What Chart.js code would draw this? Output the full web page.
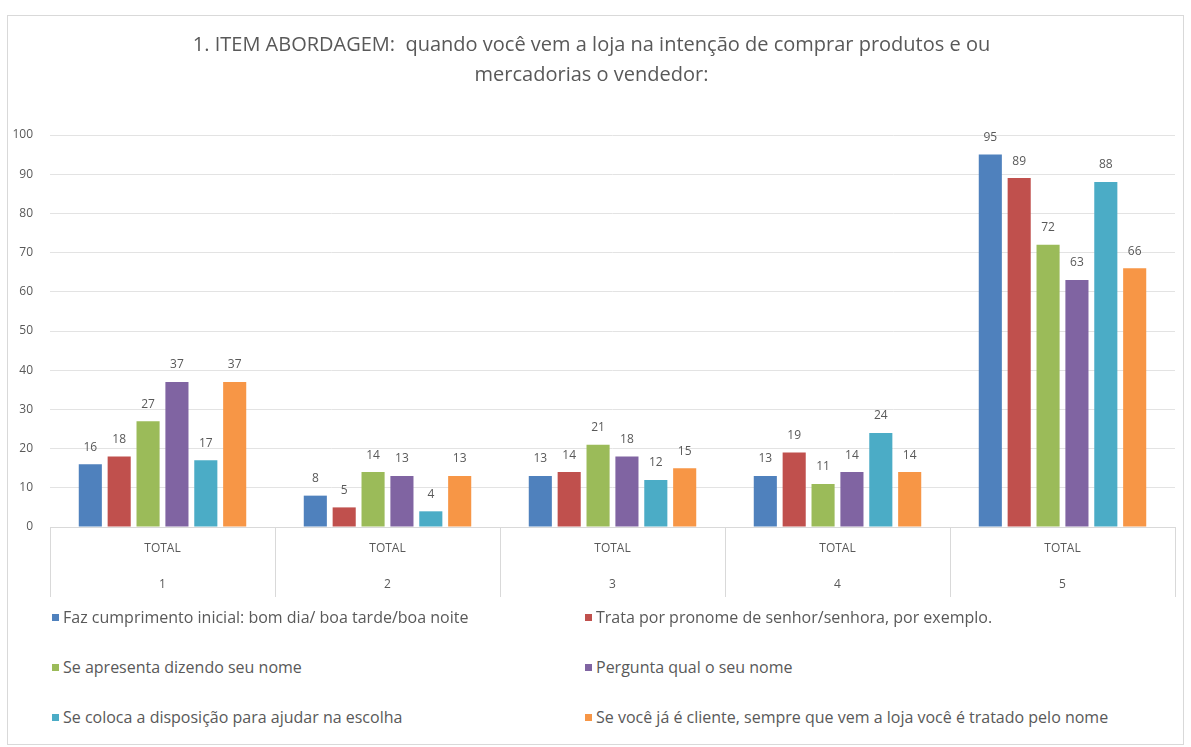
<!DOCTYPE html>
<html lang="pt">
<head>
<meta charset="UTF-8">
<title>Item abordagem</title>
<script src="https://cdn.jsdelivr.net/npm/chart.js"></script>
<style>
    body {
        margin: 0;
        background: #fff;
        font-family: "Open Sans", sans-serif;
    }
    #frame {
        position: absolute;
        left: 7px;
        top: 15px;
        width: 1175px;
        height: 728px;
        border: 1px solid #d9d9d9;
    }
    #wrap {
        position: absolute;
        left: 0;
        top: 0;
        width: 1191px;
        height: 610px;
    }
    #legend {
        position: absolute;
        left: 0;
        top: 0;
        width: 1191px;
    }
    .item {
        position: absolute;
        font-size: 16px;
        color: #595959;
        white-space: nowrap;
        line-height: 18px;
    }
    .item span.box {
        display: inline-block;
        width: 7px;
        height: 7px;
        margin-right: 4px;
        vertical-align: 2px;
    }
</style>
</head>
<body>
<div id="frame"></div>
<div id="wrap"><canvas id="chart"></canvas></div>
<div id="legend"></div>

<script>
    // dados do grafico
    const topLabels = ['TOTAL', 'TOTAL', 'TOTAL', 'TOTAL', 'TOTAL'];
    const groups = ['1', '2', '3', '4', '5'];

    const seriesNames = [
        'Faz cumprimento inicial: bom dia/ boa tarde/boa noite',
        'Trata por pronome de senhor/senhora, por exemplo.',
        'Se apresenta dizendo seu nome',
        'Pergunta qual o seu nome',
        'Se coloca a disposição para ajudar na escolha',
        'Se você já é cliente, sempre que vem a loja você é tratado pelo nome'
    ];
    const cumprimento = [16, 8, 13, 13, 95];
    const pronome = [18, 5, 14, 19, 89];
    const apresenta = [27, 14, 21, 11, 72];
    const pergunta = [37, 13, 18, 14, 63];
    const disposicao = [17, 4, 12, 24, 88];
    const cliente = [37, 13, 15, 14, 66];
    const yTicks = [0, 10, 20, 30, 40, 50, 60, 70, 80, 90, 100];

    const colors = ['#4F81BD', '#C0504D', '#9BBB59', '#8064A2', '#4BACC6', '#F79646'];
    const allSeries = [cumprimento, pronome, apresenta, pergunta, disposicao, cliente];

    const labels = topLabels.map((t, i) => [t, groups[i]]);

    // valores em cima das barras
    const valueLabels = {
        id: 'valueLabels',
        afterDatasetsDraw(chart) {
            const ctx = chart.ctx;
            ctx.save();
            ctx.font = '12px "Open Sans", sans-serif';
            ctx.fillStyle = '#595959';
            ctx.textAlign = 'center';
            ctx.textBaseline = 'middle';
            chart.data.datasets.forEach((ds, i) => {
                chart.getDatasetMeta(i).data.forEach((bar, j) => {
                    ctx.fillText(ds.data[j], bar.x, bar.y - 17);
                });
            });
            ctx.restore();
        }
    };

    const chart = new Chart(document.getElementById('chart'), {
        type: 'bar',
        data: {
            labels: labels,
            datasets: allSeries.map((d, i) => ({
                label: seriesNames[i],
                data: d,
                backgroundColor: colors[i],
                categoryPercentage: 0.77,
                barPercentage: 0.8
            }))
        },
        options: {
            responsive: true,
            maintainAspectRatio: false,
            animation: false,
            layout: { padding: { left: 8, right: 16, top: 0, bottom: 7 } },
            plugins: {
                legend: { display: false },
                tooltip: { enabled: false },
                title: {
                    display: true,
                    text: ['1. ITEM ABORDAGEM:  quando você vem a loja na intenção de comprar produtos e ou',
                           'mercadorias o vendedor:'],
                    color: '#595959',
                    font: { family: '"Open Sans", sans-serif', size: 20, weight: 'normal', lineHeight: 1.5 },
                    padding: { top: 30, bottom: 45 }
                }
            },
            scales: {
                x: {
                    afterFit(scale) {
                        scale.height = 76;
                    },
                    border: { display: true, color: '#d9d9d9' },
                    grid: {
                        display: true,
                        drawOnChartArea: false,
                        drawTicks: true,
                        tickLength: 70,
                        color: '#d9d9d9'
                    },
                    ticks: {
                        color: '#595959',
                        padding: -66,
                        autoSkip: false,
                        maxRotation: 0,
                        font: { family: '"Open Sans", sans-serif', size: 12, lineHeight: '36px' }
                    }
                },
                y: {
                    min: 0,
                    max: 100,
                    afterBuildTicks(scale) {
                        scale.ticks = yTicks.map(v => ({ value: v }));
                    },
                    afterFit(scale) {
                        scale.width = 42;
                    },
                    border: { display: false },
                    grid: { color: '#e3e3e3', drawTicks: false },
                    ticks: {
                        color: '#595959',
                        padding: 17,
                        font: { family: '"Open Sans", sans-serif', size: 12 }
                    }
                }
            }
        },
        plugins: [valueLabels]
    });

    // legenda em duas colunas
    const legend = document.getElementById('legend');
    const colX = [52, 585];
    const rowY = [617, 667, 717];
    chart.data.datasets.forEach((ds, i) => {
        const el = document.createElement('div');
        el.className = 'item';
        el.style.left = colX[i % 2] + 'px';
        el.style.top = (rowY[Math.floor(i / 2)] - 9) + 'px';
        el.innerHTML = '<span class="box" style="background:' + ds.backgroundColor + '"></span>' + ds.label;
        legend.appendChild(el);
    });
</script>
</body>
</html>
